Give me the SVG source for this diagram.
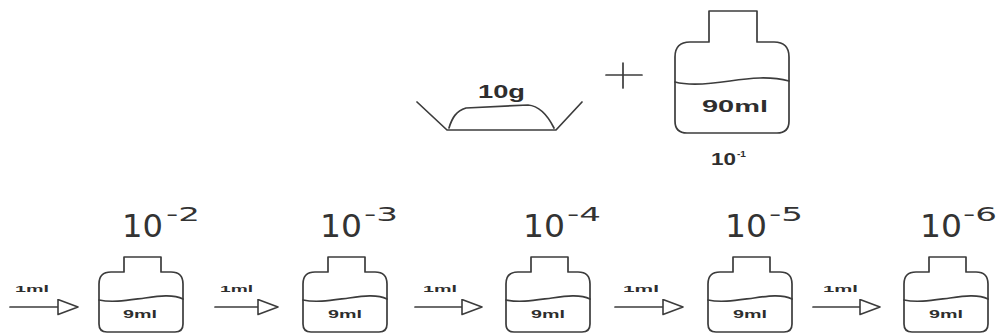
<svg xmlns="http://www.w3.org/2000/svg" width="1000" height="336" viewBox="0 0 1000 336">
  <style>
    .ink { fill: none; stroke: #3c3c3c; stroke-width: 1.7; stroke-linejoin: round; stroke-linecap: round; }
    .bold { font-family: "Liberation Sans", Arial, sans-serif; font-weight: bold; fill: #2e2e2e; }
    .exp { font-family: "DejaVu Sans", "Liberation Sans", sans-serif; fill: #333333; }
    .vol { font-size: 11px; text-anchor: middle; }
    .amt { font-size: 9.5px; }
    .base { font-size: 32px; }
    .sup { font-size: 20px; }
  </style>
  <defs>
    <!-- small dilution vial, centred on x = 0 -->
    <path id="vial" d="M-17,272 V257 H20 V272 H30 Q42,272 42,284 V324 Q42,332 34,332 H-34 Q-42,332 -42,324 V284 Q-42,272 -30,272 Z"/>
    <path id="level" d="M-42,300 C-28,303 -12,300 4,298 C18,296 32,294 42,299"/>
    <marker id="head" viewBox="-1 -1 22 17" markerWidth="22" markerHeight="17" refX="0" refY="7.5" orient="auto" markerUnits="userSpaceOnUse">
      <path d="M0,0 L20,7.5 L0,15 Z" fill="#ffffff" stroke="#3c3c3c" stroke-width="1.6" stroke-linejoin="round"/>
    </marker>
  </defs>
  <rect width="1000" height="336" fill="#ffffff"/>

  <!-- weighing boat with 10 g sample -->
  <g id="bowl">
    <path class="ink" d="M417,102 L447,130 L556,130 L582,102"/>
    <path class="ink" d="M449,128 C452,118 456,111 466,108 L528,105 C540,106 548,116 554,128"/>
    <text class="bold" x="478" y="98" font-size="18" textLength="47" lengthAdjust="spacingAndGlyphs">10g</text>
  </g>

  <g id="plus">
    <path class="ink" d="M606,75 H642 M623,63 V88"/>
  </g>

  <!-- stock bottle, first dilution -->
  <g id="stock-bottle">
    <path class="ink" d="M709,42 V11 H757 V42 H774 Q789,42 789,57 V121 Q789,133 777,133 H687 Q675,133 675,121 V57 Q675,42 690,42 Z"/>
    <path class="ink" d="M675,82 C690,86 710,84 730,81 C750,78 770,76 789,81"/>
    <text class="bold" x="702" y="112" font-size="17" textLength="66" lengthAdjust="spacingAndGlyphs">90ml</text>
    <text class="bold" x="711" y="165" font-size="17" textLength="25" lengthAdjust="spacingAndGlyphs">10</text>
    <text class="bold" x="737" y="157" font-size="9" textLength="9" lengthAdjust="spacingAndGlyphs">-1</text>
  </g>

  <!-- serial dilution vials -->
  <g id="tube-2">
    <use href="#vial" x="141" class="ink"/>
    <use href="#level" x="141" class="ink"/>
    <text class="bold vol" x="140" y="318" textLength="34" lengthAdjust="spacingAndGlyphs">9ml</text>
    <text class="exp base" x="122" y="237" textLength="41" lengthAdjust="spacingAndGlyphs">10</text>
    <text class="exp sup" x="166" y="221" textLength="34" lengthAdjust="spacingAndGlyphs">-2</text>
  </g>
  <g id="tube-3">
    <use href="#vial" x="345" class="ink"/>
    <use href="#level" x="345" class="ink"/>
    <text class="bold vol" x="345" y="318" textLength="34" lengthAdjust="spacingAndGlyphs">9ml</text>
    <text class="exp base" x="320" y="237" textLength="42" lengthAdjust="spacingAndGlyphs">10</text>
    <text class="exp sup" x="364" y="221" textLength="34" lengthAdjust="spacingAndGlyphs">-3</text>
  </g>
  <g id="tube-4">
    <use href="#vial" x="548" class="ink"/>
    <use href="#level" x="548" class="ink"/>
    <text class="bold vol" x="548" y="318" textLength="34" lengthAdjust="spacingAndGlyphs">9ml</text>
    <text class="exp base" x="523" y="237" textLength="42" lengthAdjust="spacingAndGlyphs">10</text>
    <text class="exp sup" x="567" y="221" textLength="34" lengthAdjust="spacingAndGlyphs">-4</text>
  </g>
  <g id="tube-5">
    <use href="#vial" x="750" class="ink"/>
    <use href="#level" x="750" class="ink"/>
    <text class="bold vol" x="750" y="318" textLength="34" lengthAdjust="spacingAndGlyphs">9ml</text>
    <text class="exp base" x="725" y="237" textLength="42" lengthAdjust="spacingAndGlyphs">10</text>
    <text class="exp sup" x="769" y="221" textLength="34" lengthAdjust="spacingAndGlyphs">-5</text>
  </g>
  <g id="tube-6">
    <use href="#vial" x="946" class="ink"/>
    <use href="#level" x="946" class="ink"/>
    <text class="bold vol" x="946" y="318" textLength="34" lengthAdjust="spacingAndGlyphs">9ml</text>
    <text class="exp base" x="920" y="237" textLength="42" lengthAdjust="spacingAndGlyphs">10</text>
    <text class="exp sup" x="963" y="221" textLength="34" lengthAdjust="spacingAndGlyphs">-6</text>
  </g>

  <!-- 1 ml transfers -->
  <g id="connectors">
    <path class="ink" d="M10,307 H58" marker-end="url(#head)"/>
    <path class="ink" d="M215,307 H258" marker-end="url(#head)"/>
    <path class="ink" d="M415,307 H462" marker-end="url(#head)"/>
    <path class="ink" d="M615,307 H663" marker-end="url(#head)"/>
    <path class="ink" d="M813,307 H860" marker-end="url(#head)"/>
    <text class="bold amt" x="15" y="292" textLength="34" lengthAdjust="spacingAndGlyphs">1ml</text>
    <text class="bold amt" x="220" y="292" textLength="33" lengthAdjust="spacingAndGlyphs">1ml</text>
    <text class="bold amt" x="423" y="292" textLength="34" lengthAdjust="spacingAndGlyphs">1ml</text>
    <text class="bold amt" x="623" y="292" textLength="36" lengthAdjust="spacingAndGlyphs">1ml</text>
    <text class="bold amt" x="823" y="292" textLength="35" lengthAdjust="spacingAndGlyphs">1ml</text>
  </g>
</svg>
